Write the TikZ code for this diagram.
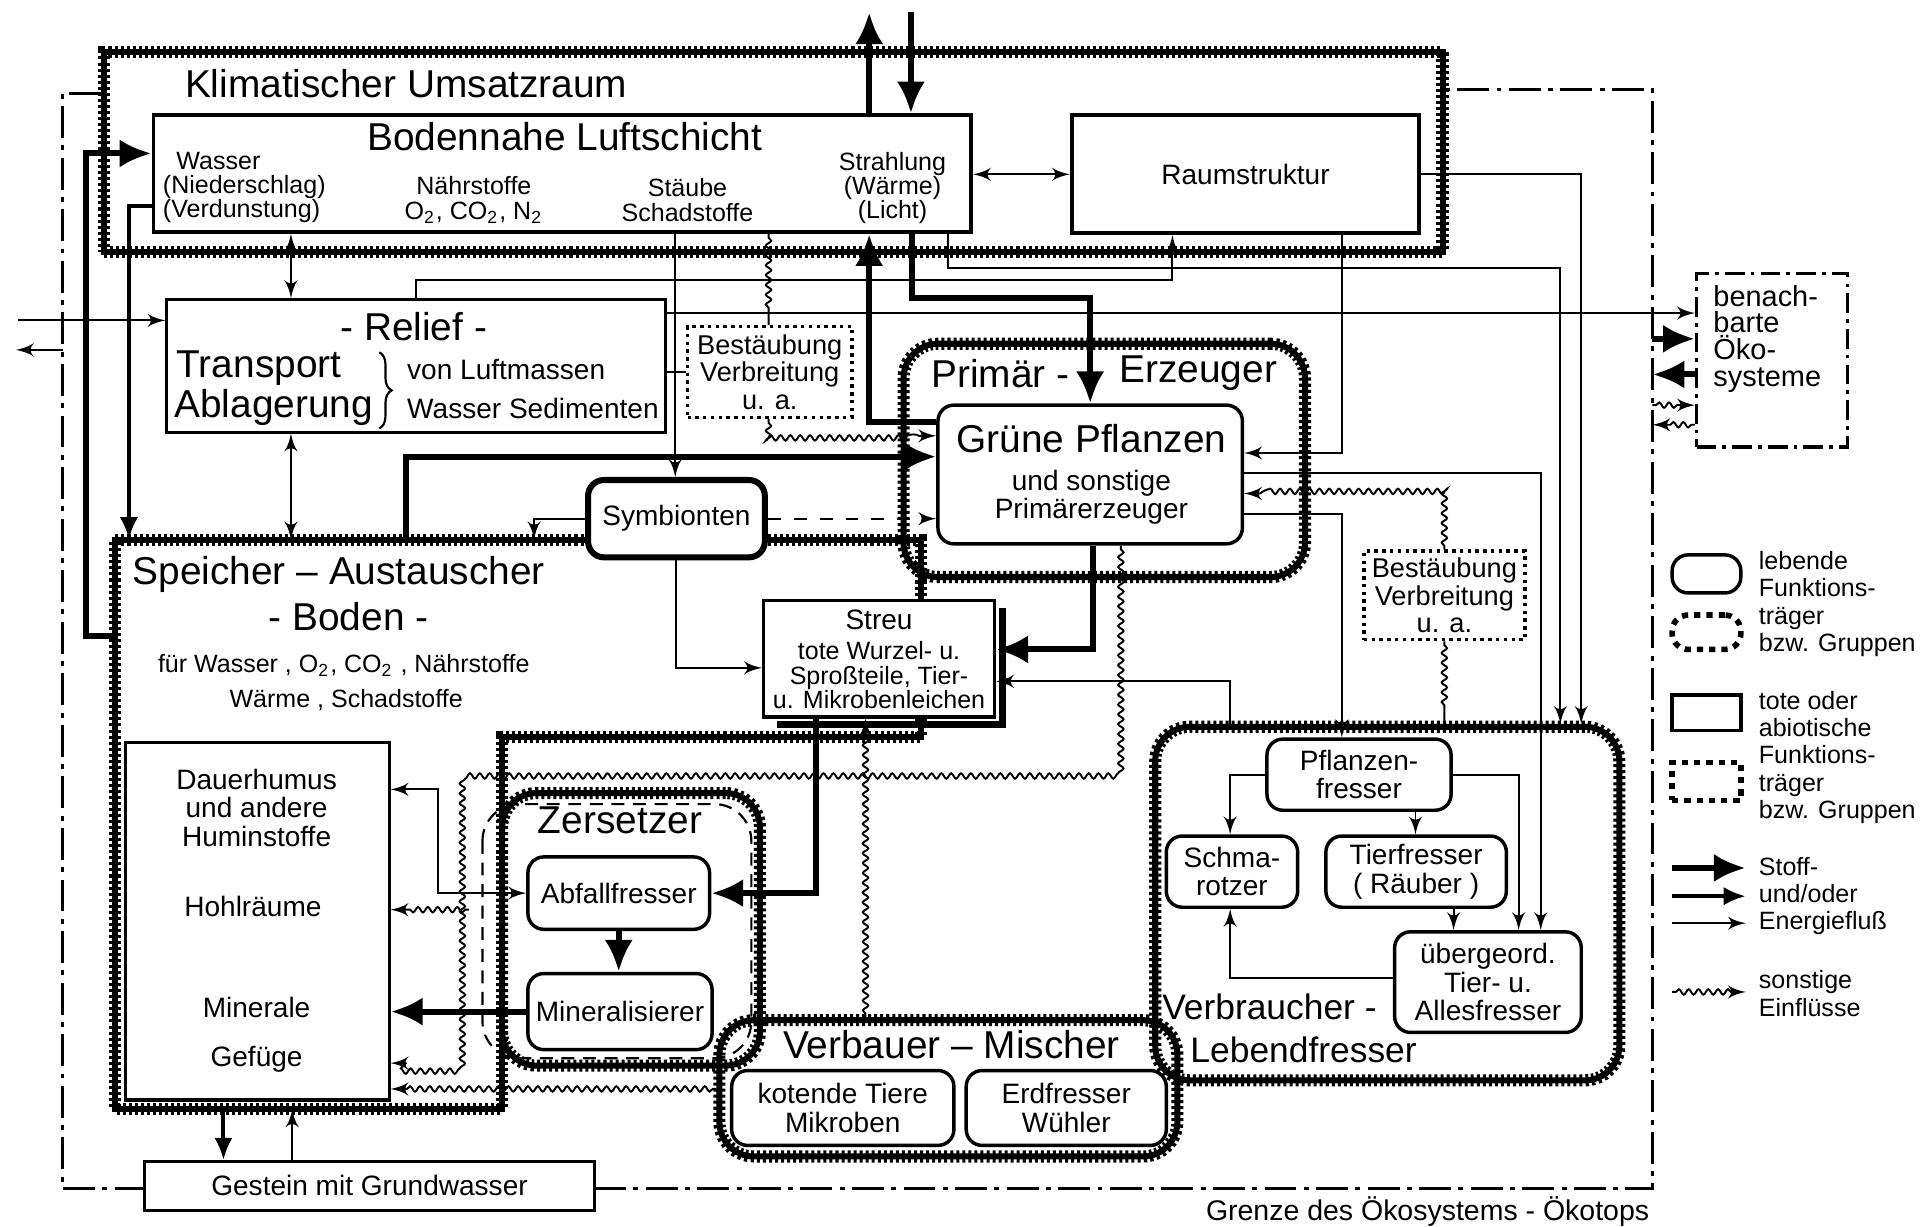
\documentclass[tikz,border=0pt]{standalone}
\usepackage{xcolor}
\usepackage{fontspec}
\setmainfont{Liberation Sans}
\usepackage{tikz}
\usetikzlibrary{positioning,shapes,arrows,arrows.meta,fit,decorations.pathmorphing,decorations.pathreplacing}

\newcommand{\gross}{\fontsize{9}{9.5}\selectfont}
\newcommand{\mittel}{\fontsize{6.5}{6.6}\selectfont}
\newcommand{\klein}{\fontsize{5.8}{5.6}\selectfont}

\tikzset{
  tot/.style={draw, line width=0.7pt, inner sep=0pt, fill=white, align=center},
  lebend/.style={draw, line width=0.8pt, rounded corners=1.3mm, inner sep=0pt, fill=white, align=center},
  rauh/.style={draw, line width=1.4pt, postaction={draw, line width=2.8pt, dash pattern=on 0.7pt off 0.7pt}},
  gruppe/.style={rauh, rounded corners=2.8mm, inner sep=0pt},
  einfluss/.style={draw, line width=0.8pt, densely dotted, inner sep=0pt, fill=white, align=center, font=\fontsize{6.3}{6.4}\selectfont},
  txt/.style={inner sep=0pt, align=center},
  fluss/.style={line width=0.45pt, ->},
  mfluss/.style={line width=0.9pt, -{Latex[length=1.8mm,width=1.5mm]}},
  sfluss/.style={line width=1.4pt, -{Latex[length=2.6mm,width=2.3mm]}},
  sonstig/.style={line width=0.45pt, decorate, decoration={snake, amplitude=0.22mm, segment length=0.8mm, pre length=0.3mm, post length=1.2mm}},
  grenze/.style={line width=0.8pt, dash pattern=on 2.6mm off 0.6mm on 0.4mm off 0.6mm},
  nachbarbox/.style={draw, line width=0.8pt, dash pattern=on 1.6mm off 0.5mm on 0.3mm off 0.5mm, inner sep=0pt},
}

\begin{document}
\begin{tikzpicture}[x=0.1mm, y=-0.1mm, >=latex', font=\mittel]
\useasboundingbox (0,0) rectangle (1568,999);

\node[gruppe, rounded corners=0pt, fit={(85,42) (1175,205)}] (klima) {};
\draw[rauh] (94,440) -- (750,440) -- (750,600) -- (409,600) -- (409,903) -- (94,903) -- cycle;
\node[inner sep=0pt, fit={(94,440) (409,903)}] (boden) {};
\node[gruppe, fit={(736,280) (1063,470)}] (prim) {};
\draw[line width=0.5pt, densely dashed, rounded corners=3mm] (393,655) rectangle (612,862);
\node[gruppe, fit={(409,646) (619,868)}] (zers) {};
\node[gruppe, fit={(586,831) (959,942)}] (verbau) {};
\node[gruppe, fit={(941,592) (1319,880)}] (verbr) {};

\draw[grenze] (klima.west |- 0,76) -- (51,76) -- (51,968) -- (118,968);
\draw[grenze] (484,968) -- (1346,968) -- (1346,73) -- (klima.east |- 0,73);
\node[txt, anchor=east, font=\fontsize{6.6}{7}\selectfont] (grenzeT) at (1344,987) {Grenze des Ökosystems - Ökotops};

\node[tot, line width=0.9pt, fit={(125,94) (791,189)}] (luft) {};
\node[tot, line width=0.9pt, minimum width=28.3mm, minimum height=9.6mm] (raum) at (1014.5,142) {Raumstruktur};
\node[tot, fit={(136,244) (542,352)}] (relief) {};
\node[einfluss, minimum width=13.4mm, minimum height=7.4mm] (best1) at (627,303) {Bestäubung\\Verbreitung\\u. a.};
\node[lebend, fit={(764,330) (1012,443)}] (gruen) {};
\node[lebend, line width=1.4pt, minimum width=14.4mm, minimum height=6.3mm] (symb) at (551,422.5) {Symbionten};
\node[tot, line width=0.8pt, fit={(622,489) (810,584)}] (streu) {};
\draw[line width=1.6pt] ([xshift=0.5mm, yshift=-0.8mm]streu.north east) |- ([xshift=1.2mm, yshift=-0.5mm]streu.south west);
\node[tot, fit={(102,605) (317,896)}] (humus) {};
\node[tot, minimum width=36.6mm, minimum height=4mm] (gestein) at (301,966) {Gestein mit Grundwasser};
\node[lebend, minimum width=14.8mm, minimum height=5.9mm] (abfall) at (504,727.5) {Abfallfresser};
\node[lebend, minimum width=15mm, minimum height=6.2mm] (miner) at (505,824) {Mineralisierer};
\node[lebend, minimum width=18.1mm, minimum height=6.1mm] (kotend) at (686.5,902.5) {kotende Tiere\\Mikroben};
\node[lebend, minimum width=16.3mm, minimum height=6.1mm] (erdfr) at (868.5,902.5) {Erdfresser\\Wühler};
\node[lebend, minimum width=15mm, minimum height=5.8mm] (pfl) at (1107,631) {Pflanzen-\\fresser};
\node[lebend, minimum width=10.7mm, minimum height=5.8mm] (schma) at (1003.5,710) {Schma-\\rotzer};
\node[lebend, minimum width=14.7mm, minimum height=5.8mm] (tierf) at (1153.5,710) {Tierfresser\\( Räuber )};
\node[lebend, minimum width=15.2mm, minimum height=8.2mm] (ueber) at (1212,800) {übergeord.\\Tier- u.\\Allesfresser};
\node[einfluss, minimum width=13.1mm, minimum height=7.2mm] (best2) at (1176.5,485) {Bestäubung\\Verbreitung\\u. a.};
\node[nachbarbox, fit={(1382,223) (1505,364)}] (nachbar) {};

\node[txt, anchor=west, font=\gross] (klimaT) at (150,68) {Klimatischer Umsatzraum};
\node[txt, font=\gross] (luftT) at (460,111) {Bodennahe Luftschicht};
\node[txt, font=\klein, align=left] (wasser) at (199,153) {\hspace*{1.1mm}Wasser\\(Niederschlag)\\(Verdunstung)};
\node[txt, font=\klein] (naehr) at (386,163) {Nährstoffe\\O\textsubscript{2}, CO\textsubscript{2}, N\textsubscript{2}};
\node[txt, font=\klein] (staub) at (560,163) {Stäube\\Schadstoffe};
\node[txt, font=\klein] (strahl) at (727,153) {Strahlung\\(Wärme)\\(Licht)};
\node[txt, font=\gross] (reliefT) at (337,266) {- Relief -};
\node[txt, font=\gross] (transp) at (211,300) {Transport};
\node[txt, font=\gross] (ablag) at (223,332) {Ablagerung};
\draw[decorate, decoration={brace, amplitude=1mm}, line width=0.5pt] (309,287) -- (309,349);
\node[txt, anchor=west] (luftm) at (331,301) {von Luftmassen};
\node[txt, anchor=west] (sedim) at (331,333) {Wasser Sedimenten};
\node[txt, font=\gross] (primT) at (815,304) {Primär -};
\node[txt, font=\gross] (erzT) at (976,304) {Erzeuger};
\node[txt, font=\gross] (gruenT) at (889,357) {Grüne Pflanzen};
\node[txt] (gruenS) at (889,405) {und sonstige\\Primärerzeuger};
\node[txt, font=\gross] (spT) at (276,468) {Speicher -- Austauscher};
\node[txt, font=\gross] (bodenT) at (284,502) {- Boden -};
\node[txt, font=\klein] (fuer) at (280,542) {für Wasser , O\textsubscript{2}, CO\textsubscript{2} , Nährstoffe};
\node[txt, font=\klein] (waerme) at (282,570) {Wärme , Schadstoffe};
\node[txt] (dauer) at (209,658) {Dauerhumus\\und andere\\Huminstoffe};
\node[txt] (hohl) at (206,738) {Hohlräume};
\node[txt] (mineral) at (209,821) {Minerale};
\node[txt] (gefuege) at (209,863) {Gefüge};
\node[txt] (streuT) at (716,505) {Streu};
\node[txt, font=\klein] (streuS) at (716,550) {tote Wurzel- u.\\Sproßteile, Tier-\\u. Mikrobenleichen};
\node[txt, font=\gross] (zersT) at (505,668) {Zersetzer};
\node[txt, font=\gross] (verbauT) at (775,851) {Verbauer -- Mischer};
\node[txt, font=\fontsize{8.2}{9}\selectfont, anchor=west] (verbrT) at (946,820) {Verbraucher -};
\node[txt, font=\fontsize{8.2}{9}\selectfont, anchor=west] (lebT) at (969,855) {Lebendfresser};
\node[txt, anchor=west, align=left, font=\fontsize{6.7}{6.2}\selectfont] (nachbarT) at (1395,276) {benach-\\barte\\Öko-\\systeme};

\coordinate (oben1) at (708,10);
\coordinate (oben2) at (742,10);
\draw[sfluss] (luft.north -| oben1) -- (oben1);
\draw[sfluss] (oben2) -- (luft.north -| oben2);
\draw[sfluss] (gruen.west |- 0,344) -| (luft.south -| 708,0);
\draw[sfluss] (luft.south -| 743,0) -- ++(0,52) -| (gruen.north);
\draw[fluss, <->] (raum.west -| luft.east) -- (raum.west);
\draw[fluss] (relief.north -| 339,0) -- ++(0,-15) -| (raum.south -| 955,0);
\draw[fluss] (luft.south -| 772,0) -- ++(0,28) -| (verbr.north -| 1271,0);
\draw[fluss] (raum.east) -| (verbr.north -| 1288,0);
\draw[fluss] (raum.south -| 1093,0) |- (gruen.east |- 0,369);
\draw[fluss] (gruen.east |- 0,385) -| (ueber.north -| 1255,0);
\draw[sonstig, ->] (best2.north) |- (gruen.east |- 0,402);
\draw[fluss] (gruen.east |- 0,419) -| (pfl.north -| 1093,0);
\draw[sonstig] (best2.south) -- (verbr.north -| best2.south);
\draw[sfluss] (gruen.south -| 890,0) |- (streu.east |- 0,529);
\coordinate (knick) at (382,629);
\draw[sonstig, ->] (gruen.south -| 913,0) |- (knick) |- (humus.east |- 0,866);
\draw[sonstig, ->] (knick |- 0,741) -- (humus.east |- 0,741);
\draw[fluss] (verbr.north -| 1002,0) |- (streu.east |- 0,555);
\draw[fluss] (luft.south -| 550,0) -- (symb.north -| 550,0);
\draw[sonstig] (luft.south -| 626,0) -- (best1.north -| 626,0);
\draw[sonstig, ->] (best1.south -| 626,0) |- (gruen.west |- 0,355);
\draw[sonstig] (relief.east |- 0,303) -- (best1.west |- 0,303);
\draw[sfluss] (boden.north -| 331,0) |- (gruen.west |- 0,372);
\draw[fluss, dashed] (symb.east) -- (gruen.west |- symb.east);
\draw[fluss] (symb.west) -| (boden.north -| 435,0);
\draw[fluss] (symb.south -| 551,0) |- (streu.west |- 0,544);
\draw[fluss, <->] (luft.south -| 237,0) -- (relief.north -| 237,0);
\draw[fluss, <->] (relief.south -| 237,0) -- (boden.north -| 237,0);
\draw[mfluss] (luft.west |- 0,168) -| (boden.north -| 105,0);
\draw[sfluss] (boden.west |- 0,518) -- ++(-23,0) |- (luft.west |- 0,125);
\coordinate (links) at (15,261);
\draw[fluss] (links) -- (relief.west |- links);
\coordinate (grenzeL) at (51,285);
\coordinate (links2) at (13,285);
\draw[fluss] (grenzeL) -- (links2);
\draw[fluss] (relief.east |- 0,255) -- (nachbar.west |- 0,255);
\coordinate (gr1) at (1346,276);
\coordinate (gr2) at (1346,305);
\coordinate (gr3) at (1346,330);
\coordinate (gr4) at (1346,346);
\draw[sfluss] (gr1) -- (nachbar.west |- gr1);
\draw[sfluss] (nachbar.west |- gr2) -- (gr2);
\draw[sonstig, ->] (gr3) -- (nachbar.west |- gr3);
\draw[sonstig, ->] (nachbar.west |- gr4) -- (gr4);
\draw[sfluss] (streu.south -| 665,0) |- (abfall.east);
\draw[sonstig, ->] (verbau.north -| 705,0) -- (streu.south -| 705,0);
\draw[sfluss] (abfall.south) -- (miner.north -| abfall.south);
\draw[sfluss] (miner.west) -- (humus.east |- miner.west);
\draw[fluss, <->] (abfall.west) -- ++(-72,0) |- (humus.east |- 0,643);
\draw[sonstig, ->] (verbau.west |- 0,887) -- (humus.east |- 0,887);
\draw[mfluss] (boden.south -| 182,0) -- (gestein.north -| 182,0);
\draw[fluss] (gestein.north -| 238,0) -- (boden.south -| 238,0);
\draw[fluss] (pfl.west) -| (schma.north -| 1002,0);
\draw[fluss] (pfl.south -| 1153,0) -- (tierf.north -| 1153,0);
\draw[fluss] (pfl.east) -| (ueber.north -| 1237,0);
\draw[fluss] (tierf.south -| 1184,0) -- (ueber.north -| 1184,0);
\draw[fluss] (ueber.west |- 0,797) -| (schma.south -| 1002,0);

\node[draw, line width=0.8pt, rounded corners=1.3mm, inner sep=0pt, fit={(1362,452) (1418,483)}] (legL) {};
\node[draw, line width=1.3pt, dash pattern=on 0.5mm off 0.5mm, rounded corners=1.3mm, inner sep=0pt, fit={(1362,501) (1418,529)}] (legLG) {};
\node[draw, line width=0.8pt, inner sep=0pt, fit={(1362,566) (1418,595)}] (legT) {};
\node[draw, line width=1.3pt, dash pattern=on 0.5mm off 0.5mm, inner sep=0pt, fit={(1362,621) (1418,652)}] (legTG) {};
\node[txt, anchor=west, align=left, font=\fontsize{5.8}{6.3}\selectfont] (legLT) at (1432,492) {lebende\\Funktions-\\träger\\bzw. Gruppen};
\node[txt, anchor=west, align=left, font=\fontsize{5.8}{6.3}\selectfont] (legTT) at (1432,617) {tote oder\\abiotische\\Funktions-\\träger\\bzw. Gruppen};
\node[txt, anchor=west, align=left, font=\fontsize{5.8}{6.3}\selectfont] (legFT) at (1432,730) {Stoff-\\und/oder\\Energiefluß};
\node[txt, anchor=west, align=left, font=\fontsize{5.8}{6.5}\selectfont] (legST) at (1432,809) {sonstige\\Einflüsse};
\coordinate (legA1) at (1362,707);
\coordinate (legB1) at (1422,707);
\coordinate (legA2) at (1362,730);
\coordinate (legB2) at (1422,730);
\coordinate (legA3) at (1362,752);
\coordinate (legB3) at (1422,752);
\coordinate (legA4) at (1362,808);
\coordinate (legB4) at (1422,808);
\draw[sfluss] (legA1) -- (legB1);
\draw[mfluss] (legA2) -- (legB2);
\draw[fluss] (legA3) -- (legB3);
\draw[sonstig, ->] (legA4) -- (legB4);
\end{tikzpicture}
\end{document}
